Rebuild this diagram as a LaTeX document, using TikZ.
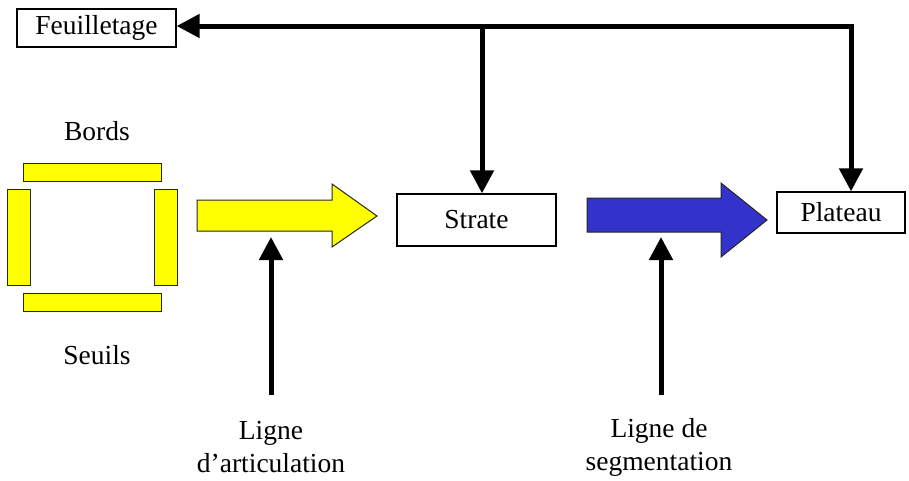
\documentclass[tikz,border=0pt]{standalone}
\usepackage{fontspec}
\setmainfont{Liberation Serif}
\usetikzlibrary{arrows.meta}
\definecolor{yel}{HTML}{FFFF00}
\definecolor{blu}{HTML}{3333CC}
\tikzset{
  box/.style={draw=black, line width=1.3pt, fill=white, inner sep=0pt, align=center},
  bar/.style={draw=black!85, line width=1pt, fill=yel},
  bigarrow/.style={draw=black!85, line width=1pt},
  arr/.style={line width=5pt, -{Triangle[length=23pt,width=23pt]}},
  lbl/.style={inner sep=0pt, align=center}
}
\begin{document}
\begin{tikzpicture}[x=1pt, y=-1pt, font=\fontsize{27.5}{33}\selectfont]
\useasboundingbox (0,0) rectangle (909,480);
% boxes
\node[box, minimum width=159pt, minimum height=38pt] (feuil) at (96.5,28) {Feuilletage};
\node[box, minimum width=159pt, minimum height=52pt] (strate) at (476.5,220) {Strate};
\node[box, minimum width=128pt, minimum height=41pt] (plateau) at (841,212.5) {Plateau};
% frame of bars
\draw[bar] (23,163) rectangle (161,181);
\draw[bar] (23,293) rectangle (161,311);
\draw[bar] (7,189) rectangle (30,285);
\draw[bar] (154,189) rectangle (177,285);
\node[lbl] (bords) at (97,131) {Bords};
\node[lbl] (seuils) at (97,355) {Seuils};
% block arrows
\draw[bigarrow, fill=yel] (197,200) -- (332,200) -- (332,184) -- (377,216) -- (332,247) -- (332,231) -- (197,231) -- cycle;
\draw[bigarrow, fill=blu] (587,198) -- (721,198) -- (721,183) -- (767,220) -- (721,257) -- (721,232) -- (587,232) -- cycle;
% top connectors
\coordinate (cR) at (853.5,26);
\coordinate (cS) at (482,26);
\coordinate (cP) at (851,23.5);
\draw[arr] (cR) -- (feuil.east |- cR);
\draw[arr] (cS) -- (cS |- strate.north);
\draw[arr] (cP) -- (cP |- plateau.north);
% labels and up arrows
\node[lbl] (art) at (271,447) {Ligne\\d’articulation};
\node[lbl] (seg) at (659,447) {Ligne de\\segmentation};
\coordinate (a1) at (271,395);
\coordinate (a2) at (661,395);
\draw[arr] (a1) -- (271,237);
\draw[arr] (a2) -- (661,237);
\end{tikzpicture}
\end{document}
